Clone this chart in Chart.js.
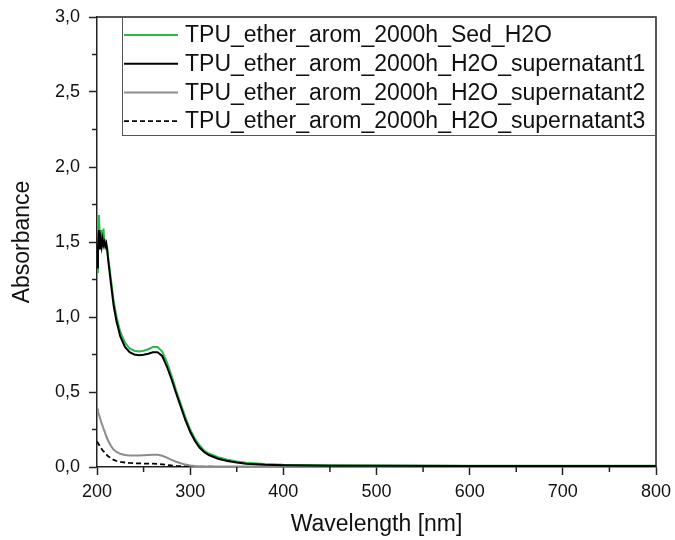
<!DOCTYPE html>
<html>
<head>
<meta charset="utf-8">
<script src="https://cdn.jsdelivr.net/npm/chart.js@4"></script>
<style>
html,body{margin:0;padding:0;background:#fff;}
#wrap{width:675px;height:540px;position:relative;}
</style>
</head>
<body>
<div id="wrap"><canvas id="c" width="675" height="540"></canvas></div>
<script>
const wavelengths = [200,201,202,203,204,205,206,207,208,209,210,211,212,215,218,221,225,230,235,240,245,250,255,260,265,270,275,280,285,290,295,300,305,310,315,320,330,340,350,360,380,400,450,500,600,700,800];
const sedH2O = [1.30,1.50,1.68,1.55,1.45,1.58,1.50,1.59,1.48,1.50,1.48,1.46,1.40,1.25,1.10,1.00,0.90,0.83,0.79,0.775,0.77,0.775,0.785,0.80,0.80,0.77,0.70,0.61,0.51,0.42,0.33,0.25,0.19,0.145,0.11,0.09,0.065,0.048,0.036,0.028,0.02,0.015,0.012,0.01,0.009,0.008,0.008];
const supernatant1 = [1.33,1.45,1.58,1.45,1.52,1.47,1.52,1.48,1.50,1.47,1.49,1.44,1.38,1.22,1.07,0.97,0.87,0.80,0.765,0.75,0.745,0.748,0.755,0.765,0.765,0.74,0.67,0.585,0.49,0.40,0.31,0.235,0.175,0.13,0.10,0.08,0.055,0.04,0.03,0.022,0.015,0.012,0.009,0.008,0.007,0.006,0.006];
const supernatant2 = [0.39,0.37,0.35,0.33,0.31,0.29,0.275,0.255,0.24,0.22,0.205,0.19,0.175,0.14,0.115,0.10,0.088,0.08,0.077,0.076,0.076,0.078,0.08,0.082,0.081,0.075,0.062,0.048,0.035,0.025,0.016,0.01,0.007,0.005,0.004,0.004,0.004,0.003,0.003,0.003,0.003,0.003,0.003,0.003,0.003,0.003,0.003];
const supernatant3 = [0.17,0.16,0.15,0.14,0.13,0.12,0.11,0.105,0.097,0.09,0.085,0.078,0.072,0.058,0.047,0.04,0.034,0.03,0.027,0.025,0.024,0.023,0.023,0.022,0.021,0.018,0.014,0.01,0.007,0.005,0.004,0.003,0.002,0.002,0.002,0.002,0.001,0.001,0.001,0.001,0.001,0.001,0.001,0.001,0.001,0.001,0.001];
const seriesLabels = ["TPU_ether_arom_2000h_Sed_H2O","TPU_ether_arom_2000h_H2O_supernatant1","TPU_ether_arom_2000h_H2O_supernatant2","TPU_ether_arom_2000h_H2O_supernatant3"];
const xMinorTicks = [250,350,450,550,650,750];
const yMinorTicks = [0.25,0.75,1.25,1.75,2.25,2.75];

const FONT = "'Liberation Sans', Arial, sans-serif";
const pts = arr => wavelengths.map((w,i)=>({x:w,y:arr[i]}));

const frameAndExtras = {
  id:'frameAndExtras',
  afterDatasetsDraw(chart){
    const ctx = chart.ctx, a = chart.chartArea;
    const xs = chart.scales.x, ys = chart.scales.y;
    ctx.save();
    ctx.strokeStyle = '#222'; ctx.lineWidth = 1.5;
    ctx.beginPath();
    ctx.moveTo(a.left, a.top); ctx.lineTo(a.right, a.top); ctx.lineTo(a.right, a.bottom);
    ctx.stroke();
    ctx.beginPath();
    xMinorTicks.forEach(v=>{const p=xs.getPixelForValue(v); ctx.moveTo(p,a.bottom); ctx.lineTo(p,a.bottom+5);});
    yMinorTicks.forEach(v=>{const p=ys.getPixelForValue(v); ctx.moveTo(a.left,p); ctx.lineTo(a.left-5,p);});
    ctx.stroke();
    const lx = a.left + 25, ly = a.top, lw = a.right - lx, lh = 119;
    ctx.fillStyle = '#fff';
    ctx.fillRect(lx, ly, lw, lh);
    ctx.strokeStyle = '#555'; ctx.lineWidth = 1;
    ctx.strokeRect(lx+0.5, ly+0.5, lw-1, lh-1);
    ctx.font = '23px ' + FONT;
    ctx.textBaseline = 'middle'; ctx.textAlign = 'left';
    chart.data.datasets.forEach((ds,i)=>{
      const cy = ly + 18 + i*28.7;
      ctx.strokeStyle = ds.borderColor; ctx.lineWidth = ds.borderWidth;
      ctx.setLineDash(ds.borderDash || []);
      ctx.beginPath(); ctx.moveTo(lx+2, cy); ctx.lineTo(lx+56, cy); ctx.stroke();
      ctx.setLineDash([]);
      ctx.fillStyle = '#111';
      ctx.fillText(ds.label, lx+63, cy+1);
    });
    ctx.restore();
  }
};

new Chart(document.getElementById('c'), {
  type:'scatter',
  data:{datasets:[
    {label:seriesLabels[0], data:pts(sedH2O), borderColor:'#2db84d', borderWidth:2, showLine:true, pointRadius:0, tension:0, order:2},
    {label:seriesLabels[1], data:pts(supernatant1), borderColor:'#000000', borderWidth:2, showLine:true, pointRadius:0, tension:0, order:1},
    {label:seriesLabels[2], data:pts(supernatant2), borderColor:'#8c8c8c', borderWidth:2, showLine:true, pointRadius:0, tension:0, order:3},
    {label:seriesLabels[3], data:pts(supernatant3), borderColor:'#000000', borderWidth:1.8, borderDash:[5,3], showLine:true, pointRadius:0, tension:0, order:4}
  ]},
  options:{
    responsive:false, animation:false, devicePixelRatio:1,
    layout:{padding:{top:17,right:19,left:0,bottom:0}},
    plugins:{legend:{display:false}, tooltip:{enabled:false}},
    scales:{
      x:{type:'linear', min:200, max:800,
        afterFit(s){s.height = 73; s.paddingLeft = 0; s.paddingRight = 0;},
        border:{display:true,color:'#222',width:1.5},
        grid:{drawOnChartArea:false, drawTicks:true, tickLength:8, tickColor:'#222', tickWidth:1.5},
        ticks:{stepSize:100, color:'#111', padding:6, font:{family:FONT,size:18}},
        title:{display:true, text:'Wavelength [nm]', color:'#111', font:{family:FONT,size:23}, padding:{top:8,bottom:2}}
      },
      y:{type:'linear', min:0, max:3,
        afterFit(s){s.width = 97; s.paddingTop = 0; s.paddingBottom = 0;},
        border:{display:true,color:'#222',width:1.5},
        grid:{drawOnChartArea:false, drawTicks:true, tickLength:8, tickColor:'#222', tickWidth:1.5},
        ticks:{stepSize:0.5, color:'#111', padding:9, font:{family:FONT,size:18},
          callback:v=>v.toFixed(1).replace('.',',')},
        title:{display:true, text:'Absorbance', color:'#111', font:{family:FONT,size:23}, padding:{top:9,bottom:0}}
      }
    }
  },
  plugins:[frameAndExtras]
});
</script>
</body>
</html>
